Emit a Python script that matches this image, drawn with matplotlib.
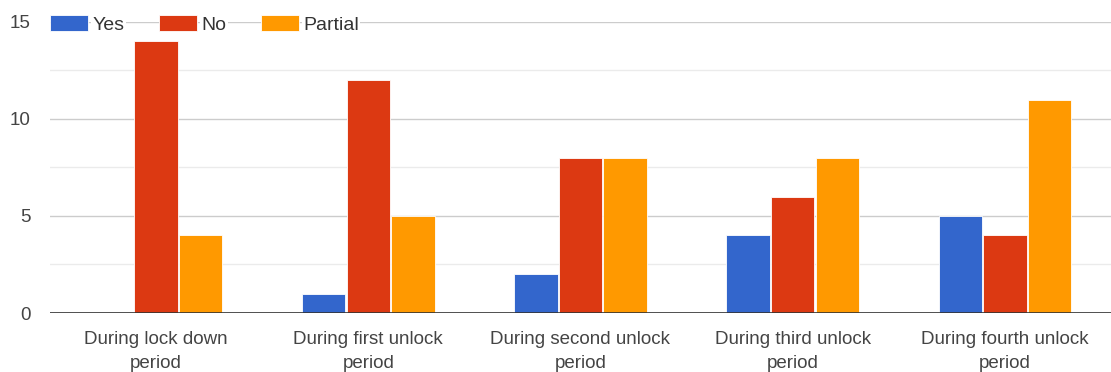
import matplotlib.pyplot as plt
import numpy as np

# survey answers per period
periods = ['During lock down\nperiod', 'During first unlock\nperiod',
           'During second unlock\nperiod', 'During third unlock\nperiod',
           'During fourth unlock\nperiod']
yes = [0, 1, 2, 4, 5]
no = [14, 12, 8, 6, 4]
partial = [4, 5, 8, 8, 11]

series = [('Yes', yes, '#3366CC'), ('No', no, '#DC3912'), ('Partial', partial, '#FF9900')]

plt.rcParams['font.family'] = ['Liberation Sans', 'DejaVu Sans']

fig = plt.figure(figsize=(11.11, 3.72), dpi=100)
ax = fig.add_axes([0.045, 0.1586, 0.955, 0.7824])

x = np.arange(len(periods))
w = 0.205
for i, (name, vals, col) in enumerate(series):
    ax.bar(x + (i - 1) * (w + 0.005), vals, width=w, color=col,
           edgecolor='white', linewidth=0.6, label=name, zorder=3)

ax.set_xlim(-0.5, len(periods) - 0.5)
ax.set_ylim(0, 15)
ax.set_yticks([0, 5, 10, 15])
ax.set_yticks([2.5, 7.5, 12.5], minor=True)
ax.grid(axis='y', which='major', color='#cccccc', linewidth=1, zorder=0)
ax.grid(axis='y', which='minor', color='#ebebeb', linewidth=1, zorder=0)
ax.axhline(0, color='#333333', linewidth=1.2, zorder=4)
for s in ax.spines.values():
    s.set_visible(False)
ax.set_xticks(x)
ax.set_xticklabels(periods, linespacing=1.5)
ax.tick_params(axis='both', which='both', length=0, labelsize=13.5, colors='#444444')
ax.tick_params(axis='x', pad=13)
ax.tick_params(axis='y', pad=14)

leg = ax.legend(loc='lower left', bbox_to_anchor=(0.0, 0.96), ncol=3, frameon=False,
                fontsize=14, handlelength=1.95, handleheight=0.9,
                handletextpad=0.25, columnspacing=1.75, borderaxespad=0, borderpad=0)
for t in leg.get_texts():
    t.set_color('#333333')
    t.set_bbox(dict(facecolor='white', edgecolor='none', pad=1))

fig.savefig('out.png', dpi=100)
